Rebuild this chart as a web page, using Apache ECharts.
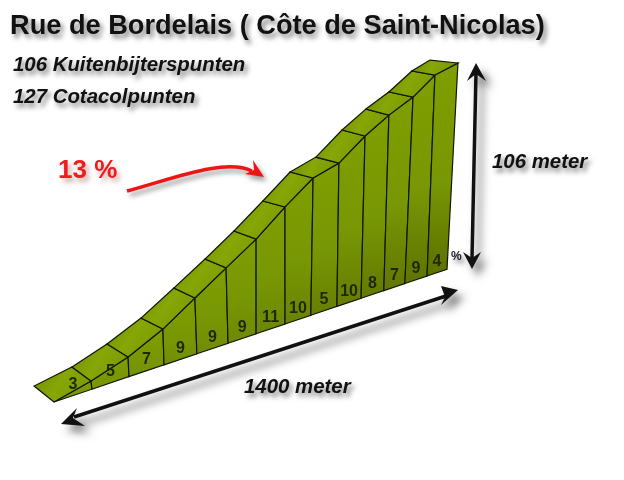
<!DOCTYPE html>
<html><head><meta charset="utf-8">
<style>html,body{margin:0;padding:0;background:#fff}#c{width:624px;height:480px}</style>
<script src="https://cdn.jsdelivr.net/npm/echarts@6/dist/echarts.min.js"></script>
</head><body><div id="c"></div>
<script>
// gradient per section (%)
const grades = [3,5,7,9,9,9,11,10,5,10,8,7,9,4];
// section boundaries along the road (m), at the foot of the wall
const baseDist = [0,135,267,392,509,620,720,823,915,1008,1094,1175,1250,1329,1400];
// near edge of the road surface: distance (m), height (m)
const ridgeDist = [0,132,264,388,502,613,720,823,923,1015,1108,1193,1279,1357,1439];
const ridgeElev = [0,4.4,10.3,18.6,29.0,39.1,48.7,60.2,70.2,73.4,82.8,89.4,94.5,102.0,104.2];
// far edge of the road surface (oblique view): distance (m), height (m)
const backDist = [-71,64,189,310,427,538,641,744,841,933,1026,1111,1193,1275,1339];
const backElev = [11.7,14.9,20.6,28.1,37.8,47.3,56.7,67.1,77.3,80.5,89.9,96.5,101.3,108.1,110.6];

const SKEW = 0.0488;       // the foot line rises in the oblique view
const LABEL_ELEV = 5.7;
const FONT = '"Liberation Sans", Arial, sans-serif';

function lerp(a,b,t){return Math.round(a+(b-a)*t);}
function renderSection(params, api){
  const i = api.value(0);
  const P = (d,h)=>api.coord([d, h + d*SKEW]);
  const t = i/(grades.length-1);
  const bottom = `rgb(${lerp(122,92,t)},${lerp(152,112,t)},${lerp(8,0,t)})`;
  const foot = P(baseDist[i+1],0), foot0 = P(baseDist[i],0);
  const a = P(ridgeDist[i],ridgeElev[i]), b = P(ridgeDist[i+1],ridgeElev[i+1]);
  const c = P(backDist[i+1],backElev[i+1]), d = P(backDist[i],backElev[i]);
  const topY = Math.min(a[1],b[1]), botY = Math.max(foot[1],foot0[1]);
  const wallFill = new echarts.graphic.LinearGradient(0,topY,0,botY,[
    {offset:0,color:'#7e9e00'},{offset:.55,color:'#789704'},{offset:1,color:bottom}],true);
  const roofFill = new echarts.graphic.LinearGradient(0,0,1,1,[
    {offset:0,color:'#6f8c00'},{offset:.45,color:'#86a706'},{offset:1,color:'#769400'}]);
  return {type:'group',children:[
    {type:'polygon',shape:{points:[foot0,a,b,foot]},
     style:{fill:wallFill,stroke:'#121500',lineWidth:1.2}},
    {type:'polygon',shape:{points:[a,b,c,d]},
     style:{fill:roofFill,stroke:'#121500',lineWidth:1.2}}
  ]};
}
function renderLabel(params, api){
  const i = api.value(0);
  const mid = (baseDist[i]+baseDist[i+1])/2;
  const p = api.coord([mid, LABEL_ELEV + mid*SKEW]);
  return {type:'text',x:p[0],y:p[1],style:{text:String(api.value(1)),
    font:'bold 16px '+FONT,fill:'#1f2800',align:'center',verticalAlign:'middle'}};
}
const rows = grades.map((g,i)=>[i,g]);
const shadow = {shadowBlur:8,shadowColor:'rgba(0,0,0,0.55)',shadowOffsetX:6,shadowOffsetY:7};
const txt = (text,x,y,font,fill,extra)=>({type:'text',x,y,z:20,style:Object.assign({text,font,fill:fill||'#111',verticalAlign:'middle',
  textShadowBlur:5,textShadowColor:'rgba(0,0,0,0.5)',textShadowOffsetX:3,textShadowOffsetY:4},extra||{})});
const line = (x1,y1,x2,y2,w,col)=>({type:'line',z:10,shape:{x1,y1,x2,y2},style:Object.assign({stroke:col||'#111',lineWidth:w},shadow)});
const head = (pts,col)=>({type:'polygon',z:11,shape:{points:pts},style:Object.assign({fill:col||'#111'},shadow)});
const redShadow = {shadowColor:'rgba(0,0,0,0.4)',shadowBlur:5,shadowOffsetX:3,shadowOffsetY:4};

echarts.init(document.getElementById('c'),null,{renderer:'canvas'}).setOption({
  animation:false,
  backgroundColor:'#fff',
  graphic:[
    txt('Rue de Bordelais ( Côte de Saint-Nicolas)',10,27,'bold 27.2px '+FONT),
    txt('106 Kuitenbijterspunten',13,65,'italic bold 20.4px '+FONT),
    txt('127 Cotacolpunten',13,97,'italic bold 20.4px '+FONT),
    txt('13 %',58,171,'bold 26px '+FONT,'#ee1c1c',{textShadowColor:'rgba(120,0,0,0.35)'}),
    txt('106 meter',492,162,'italic bold 20.4px '+FONT),
    txt('1400 meter',244,387,'italic bold 20.4px '+FONT),
    txt('%',451,257,'bold 12px '+FONT,'#223'),
    // height arrow
    line(476,72,472,258,3.5),
    head([[476,63],[486,81],[476,74],[467,81]]),
    head([[472,269],[463,252],[472,258],[481,252]]),
    // distance arrow
    line(74,417,446,296,3.5),
    head([[458,290],[441,286],[445,297],[441,305]]),
    head([[61,424],[77,408],[73,418],[85,426]]),
    // red arrow
    {type:'bezierCurve',z:10,shape:{x1:127,y1:191,cpx1:175,cpy1:178,cpx2:225,cpy2:158,x2:252,y2:171},
     style:Object.assign({stroke:'#ee1515',fill:'none',lineWidth:3.5},redShadow)},
    {type:'polygon',z:11,shape:{points:[[264,177],[253,160],[254,170],[245,174]]},
     style:Object.assign({fill:'#ee1515'},redShadow)}
  ],
  grid:{left:54,top:196,width:393,height:206},
  xAxis:{type:'value',min:0,max:1400,show:false},
  yAxis:{type:'value',min:0,max:106,show:false},
  series:[
    {type:'custom',data:rows,renderItem:renderSection,clip:false,z:2,silent:true,encode:{x:0,y:1}},
    {type:'custom',data:rows,renderItem:renderLabel,clip:false,z:3,silent:true,encode:{x:0,y:1}}
  ]
});
</script></body></html>
